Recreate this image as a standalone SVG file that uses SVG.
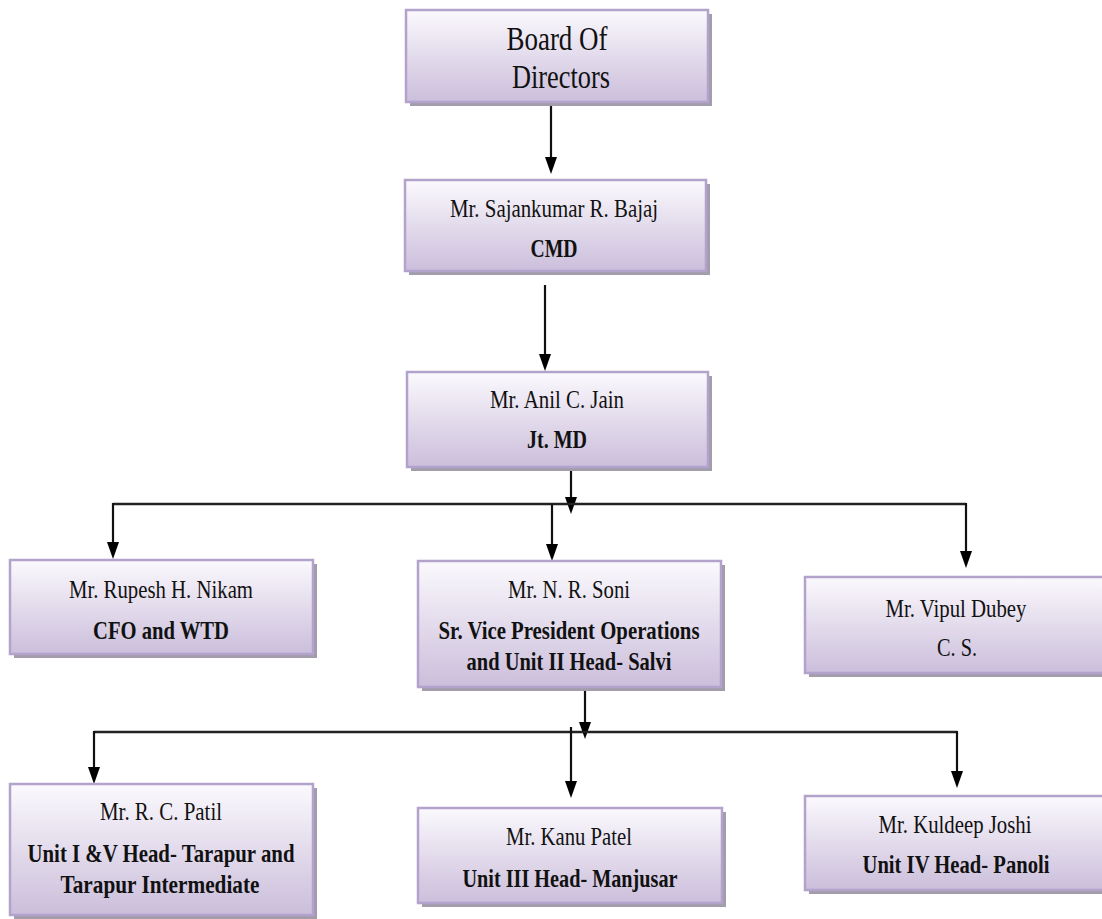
<svg xmlns="http://www.w3.org/2000/svg" width="1102" height="919" viewBox="0 0 1102 919">
<style>
.box{fill:url(#g);stroke:#b3a2cb;stroke-width:2.5}
.sh{fill:#a29cab}
text{font-family:'Liberation Serif','Times New Roman',serif;fill:#111;text-anchor:middle}
.n{font-size:26px}
.b{font-size:25px;font-weight:bold}
.t{font-size:33px}
.c{fill:none;stroke:#111;stroke-width:2.2;marker-end:url(#ah)}
.h{fill:none;stroke:#222;stroke-width:2.6}
</style>
<defs>
<linearGradient id="g" x1="0" y1="0" x2="0" y2="1">
<stop offset="0" stop-color="#fbf9fd"/>
<stop offset="1" stop-color="#cbbedb"/>
</linearGradient>
<marker id="ah" markerUnits="userSpaceOnUse" markerWidth="18" markerHeight="14" refX="8" refY="7" orient="auto">
<path d="M0,1 L17,7 L0,13 z" fill="#000"/>
</marker>
</defs>
<g id="connectors">
<path class="c" d="M551,102 V165"/>
<path class="c" d="M545,285 V362"/>
<path class="c" d="M571,467 V505"/>
<path class="h" d="M113,504 H966"/>
<path class="c" d="M113,503 V550"/>
<path class="c" d="M552,504 V552"/>
<path class="c" d="M966,503 V559"/>
<path class="c" d="M585,687 V730"/>
<path class="h" d="M94,732 H957"/>
<path class="c" d="M94,731 V775"/>
<path class="c" d="M571,727 V789"/>
<path class="c" d="M957,731 V779"/>
</g>
<g id="board">
<rect class="sh" x="410" y="14" width="302" height="92"/>
<rect class="box" x="406" y="10" width="302" height="92"/>
<text class="t" x="557" y="50" textLength="101" lengthAdjust="spacingAndGlyphs">Board Of</text>
<text class="t" x="561" y="88" textLength="98" lengthAdjust="spacingAndGlyphs">Directors</text>
</g>
<g id="cmd">
<rect class="sh" x="409" y="184" width="301" height="91"/>
<rect class="box" x="405" y="180" width="301" height="91"/>
<text class="n" x="554" y="217" textLength="208" lengthAdjust="spacingAndGlyphs">Mr. Sajankumar R. Bajaj</text>
<text class="b" x="554" y="257" textLength="47" lengthAdjust="spacingAndGlyphs">CMD</text>
</g>
<g id="jain">
<rect class="sh" x="411" y="376" width="301" height="95"/>
<rect class="box" x="407" y="372" width="301" height="95"/>
<text class="n" x="557" y="408" textLength="134" lengthAdjust="spacingAndGlyphs">Mr. Anil C. Jain</text>
<text class="b" x="557" y="448" textLength="60" lengthAdjust="spacingAndGlyphs">Jt. MD</text>
</g>
<g id="nikam">
<rect class="sh" x="14" y="564" width="303" height="94"/>
<rect class="box" x="10" y="560" width="303" height="94"/>
<text class="n" x="161" y="598" textLength="184" lengthAdjust="spacingAndGlyphs">Mr. Rupesh H. Nikam</text>
<text class="b" x="161" y="639" textLength="136" lengthAdjust="spacingAndGlyphs">CFO and WTD</text>
</g>
<g id="soni">
<rect class="sh" x="422" y="565" width="303" height="126"/>
<rect class="box" x="418" y="561" width="303" height="126"/>
<text class="n" x="569" y="598" textLength="122" lengthAdjust="spacingAndGlyphs">Mr. N. R. Soni</text>
<text class="b" x="569" y="639" textLength="261" lengthAdjust="spacingAndGlyphs">Sr. Vice President Operations</text>
<text class="b" x="569" y="670" textLength="205" lengthAdjust="spacingAndGlyphs">and Unit II Head- Salvi</text>
</g>
<g id="dubey">
<rect class="sh" x="809" y="581" width="302" height="96"/>
<rect class="box" x="805" y="577" width="302" height="96"/>
<text class="n" x="956" y="617" textLength="141" lengthAdjust="spacingAndGlyphs">Mr. Vipul Dubey</text>
<text class="n" x="957" y="656" textLength="40" lengthAdjust="spacingAndGlyphs">C. S.</text>
</g>
<g id="patil">
<rect class="sh" x="14" y="788" width="303" height="131"/>
<rect class="box" x="10" y="784" width="303" height="131"/>
<text class="n" x="161" y="820" textLength="122" lengthAdjust="spacingAndGlyphs">Mr. R. C. Patil</text>
<text class="b" x="161" y="862" textLength="267" lengthAdjust="spacingAndGlyphs">Unit I &amp;V Head- Tarapur and</text>
<text class="b" x="160" y="893" textLength="199" lengthAdjust="spacingAndGlyphs">Tarapur Intermediate</text>
</g>
<g id="kanu">
<rect class="sh" x="422" y="812" width="304" height="95"/>
<rect class="box" x="418" y="808" width="304" height="95"/>
<text class="n" x="569" y="845" textLength="126" lengthAdjust="spacingAndGlyphs">Mr. Kanu Patel</text>
<text class="b" x="570" y="887" textLength="215" lengthAdjust="spacingAndGlyphs">Unit III Head- Manjusar</text>
</g>
<g id="kuldeep">
<rect class="sh" x="809" y="800" width="302" height="94"/>
<rect class="box" x="805" y="796" width="302" height="94"/>
<text class="n" x="955" y="833" textLength="153" lengthAdjust="spacingAndGlyphs">Mr. Kuldeep Joshi</text>
<text class="b" x="956" y="873" textLength="187" lengthAdjust="spacingAndGlyphs">Unit IV Head- Panoli</text>
</g>
</svg>
